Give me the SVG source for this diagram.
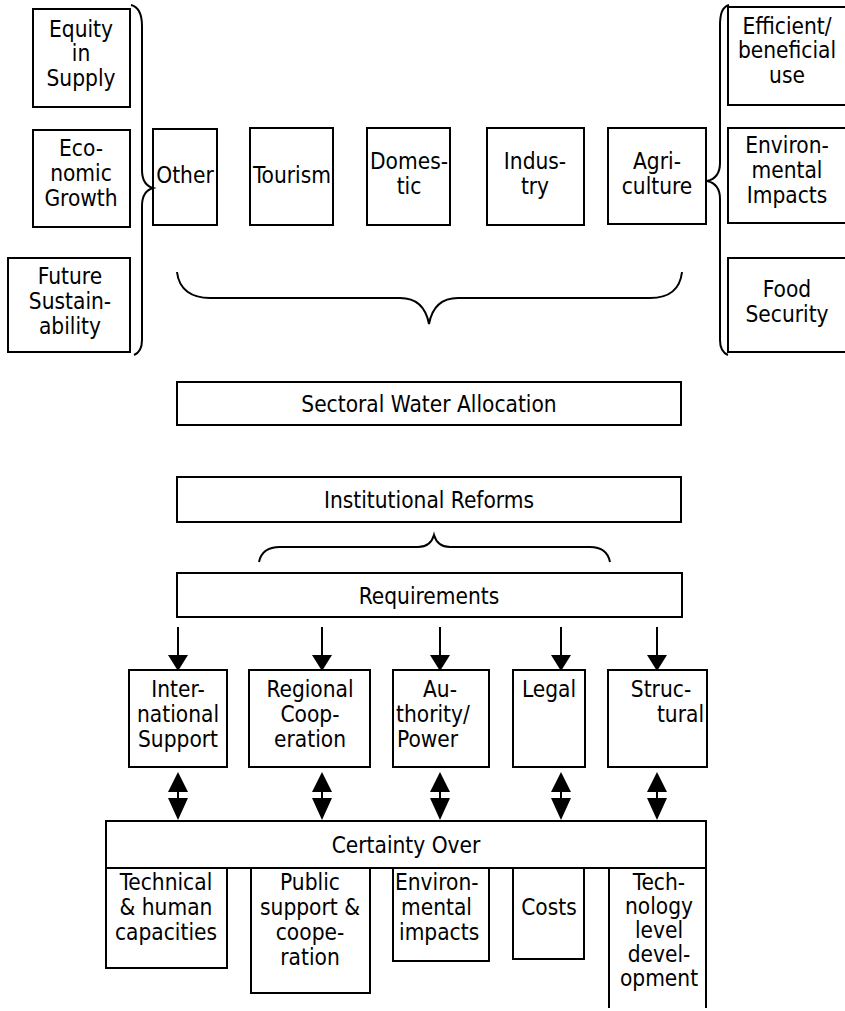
<svg xmlns="http://www.w3.org/2000/svg" width="845" height="1011" viewBox="0 0 845 1011">
<defs>
<style>
.b{fill:#fff;stroke:#000;stroke-width:2}
.o{fill:none;stroke:#000;stroke-width:2}
text{font-family:'DejaVu Sans Condensed','DejaVu Sans',sans-serif;font-stretch:condensed;font-size:22.5px;fill:#000;text-anchor:middle}
.s{text-anchor:start}
.e{text-anchor:end}
.c{stroke:#000;stroke-width:2;fill:none}
.h{fill:#000;stroke:none}
</style>
</defs>
<rect width="845" height="1011" fill="#fff"/>

<g id="equity"><rect class="b" x="33" y="9" width="97" height="98"/><text x="81" y="37">Equity</text><text x="81" y="61">in</text><text x="81" y="86">Supply</text></g>
<g id="economic"><rect class="b" x="33" y="130" width="97" height="97"/><text x="81" y="156">Eco-</text><text x="81" y="181">nomic</text><text x="81" y="206">Growth</text></g>
<g id="future"><rect class="b" x="8" y="258" width="122" height="94"/><text x="70" y="284">Future</text><text x="70" y="309">Sustain-</text><text x="70" y="334">ability</text></g>

<g id="other"><rect class="b" x="153" y="129" width="64" height="96"/><text x="185" y="183">Other</text></g>
<g id="tourism"><rect class="b" x="250" y="128" width="83" height="97"/><text x="292" y="183">Tourism</text></g>
<g id="domestic"><rect class="b" x="367" y="128" width="83" height="97"/><text x="409" y="169">Domes-</text><text x="409" y="194">tic</text></g>
<g id="industry"><rect class="b" x="487" y="128" width="97" height="97"/><text x="535" y="169">Indus-</text><text x="535" y="194">try</text></g>
<g id="agriculture"><rect class="b" x="608" y="128" width="98" height="96"/><text x="657" y="169">Agri-</text><text x="657" y="194">culture</text></g>

<g id="efficient"><rect class="b" x="728" y="7" width="118" height="98"/><text x="787" y="34">Efficient/</text><text x="787" y="58">beneficial</text><text x="787" y="83">use</text></g>
<g id="envimpacts"><rect class="b" x="728" y="128" width="118" height="95"/><text x="787" y="153">Environ-</text><text x="787" y="178">mental</text><text x="787" y="203">Impacts</text></g>
<g id="food"><rect class="b" x="728" y="258" width="118" height="94"/><text x="787" y="297">Food</text><text x="787" y="322">Security</text></g>

<g id="sectoral"><rect class="b" x="177" y="382" width="504" height="43"/><text x="429" y="412">Sectoral Water Allocation</text></g>
<g id="institutional"><rect class="b" x="177" y="477" width="504" height="45"/><text x="429" y="508">Institutional Reforms</text></g>
<g id="requirements"><rect class="b" x="177" y="573" width="505" height="44"/><text x="429" y="604">Requirements</text></g>

<g id="international"><rect class="b" x="129" y="670" width="98" height="97"/><text x="178" y="697">Inter-</text><text x="178" y="722">national</text><text x="178" y="747">Support</text></g>
<g id="regional"><rect class="b" x="249" y="670" width="121" height="97"/><text x="310" y="697">Regional</text><text x="310" y="722">Coop-</text><text x="310" y="747">eration</text></g>
<g id="authority"><rect class="b" x="393" y="670" width="96" height="97"/><text x="440" y="697">Au-</text><text class="s" x="396" y="722">thority/</text><text class="s" x="397" y="747">Power</text></g>
<g id="legal"><rect class="b" x="513" y="670" width="72" height="97"/><text x="549" y="697">Legal</text></g>
<g id="structural"><rect class="b" x="608" y="670" width="99" height="97"/><text x="661" y="697">Struc-</text><text class="e" x="704" y="722">tural</text></g>

<g id="certainty"><rect class="b" x="106" y="821" width="600" height="47"/><text x="406" y="853">Certainty Over</text></g>
<g id="technical"><rect class="b" x="106" y="868" width="121" height="100"/><text x="166" y="890">Technical</text><text x="166" y="915">&amp; human</text><text x="166" y="940">capacities</text></g>
<g id="public"><rect class="b" x="251" y="868" width="119" height="125"/><text x="310" y="890">Public</text><text x="310" y="915">support &amp;</text><text x="310" y="940">coope-</text><text x="310" y="965">ration</text></g>
<g id="envimpacts2"><rect class="b" x="393" y="868" width="96" height="93"/><text class="s" x="395" y="890">Environ-</text><text class="s" x="401" y="915">mental</text><text class="s" x="399" y="940">impacts</text></g>
<g id="costs"><rect class="b" x="513" y="868" width="71" height="91"/><text x="549" y="915">Costs</text></g>
<g id="technology"><path class="o" d="M609,1008 V868 H706 V1008"/><text x="659" y="890">Tech-</text><text x="659" y="914">nology</text><text x="659" y="938">level</text><text x="659" y="962">devel-</text><text x="659" y="986">opment</text></g>

<g id="connectors">
<path class="c" d="M131,5 C139,7 142,14 142,26 L142,170 C142,180 146,186 153,188 C146,190 142,196 142,206 L142,340 C142,349 139,353 134,355"/>
<path class="c" d="M729,5 C722,7 720,14 720,26 L720,163 C720,173 716,179 707,181 C716,183 720,189 720,199 L720,340 C720,349 723,353 728,355"/>
<path class="c" d="M177,272 C179,290 192,298 210,298 L400,298 C418,298 426,308 429,324 C432,308 440,298 458,298 L650,298 C668,298 680,290 682,272"/>
<path class="c" d="M259,562 C261,552 268,547 280,547 L418,547 C428,547 432,542 434,535 C436,542 440,547 450,547 L590,547 C602,547 608,552 610,562"/>
<g id="down">
<path class="c" d="M178,627 V656 M322,627 V656 M440,627 V656 M561,627 V656 M657,627 V656"/>
<path class="h" d="M168,655 L188,655 L178,671 Z M312,655 L332,655 L322,671 Z M430,655 L450,655 L440,671 Z M551,655 L571,655 L561,671 Z M647,655 L667,655 L657,671 Z"/>
</g>
<g id="bidir">
<path class="c" d="M178,790 V800 M322,790 V800 M440,790 V800 M561,790 V800 M657,790 V800"/>
<path class="h" d="M168,792 L188,792 L178,772 Z M168,798 L188,798 L178,820 Z"/>
<path class="h" d="M312,792 L332,792 L322,772 Z M312,798 L332,798 L322,820 Z"/>
<path class="h" d="M430,792 L450,792 L440,772 Z M430,798 L450,798 L440,820 Z"/>
<path class="h" d="M551,792 L571,792 L561,772 Z M551,798 L571,798 L561,820 Z"/>
<path class="h" d="M647,792 L667,792 L657,772 Z M647,798 L667,798 L657,820 Z"/>
</g>
</g>
</svg>
